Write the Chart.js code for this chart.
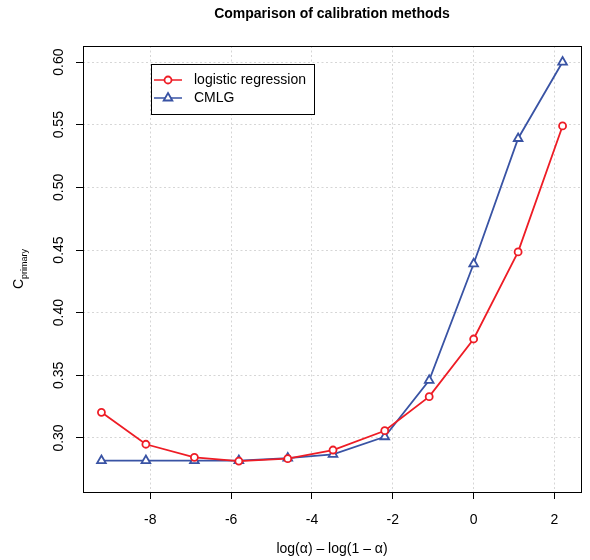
<!DOCTYPE html>
<html>
<head>
<meta charset="utf-8">
<script src="https://cdn.jsdelivr.net/npm/chart.js@4.4.0/dist/chart.umd.min.js"></script>
<style>
  html, body { margin: 0; padding: 0; background: #fff; }
  #wrap { width: 590px; height: 560px; }
</style>
</head>
<body>
<div id="wrap"><canvas id="calChart" width="590" height="560"></canvas></div>
<script>
// log(alpha) - log(1 - alpha)
const logitAlpha = [-9.21, -8.11, -6.91, -5.81, -4.60, -3.48, -2.20, -1.10, 0, 1.10, 2.20]
const logisticVals = [0.3205, 0.295, 0.2846, 0.2816, 0.2835, 0.2904, 0.3058, 0.333, 0.379, 0.4485, 0.549]
const cmlgVals = [0.282, 0.282, 0.282, 0.282, 0.284, 0.287, 0.301, 0.346, 0.439, 0.539, 0.600]
const seriesNames = ['logistic regression', 'CMLG']
const xTicks = [-8, -6, -4, -2, 0, 2]
const yTicks = [0.30, 0.35, 0.40, 0.45, 0.50, 0.55, 0.60]

const RED = '#EE1C25'
const BLUE = '#3953A4'
const FONT = '"Liberation Sans", Arial, sans-serif'

const ctx = document.getElementById('calChart').getContext('2d')

function toPoints(xs, ys) {
  return xs.map((x, i) => ({ x, y: ys[i] }))
}

const rBasePlot = {
  id: 'rBasePlot',
  afterDraw(chart) {
    const { ctx, chartArea: a, scales } = chart
    ctx.save()
    // box
    ctx.strokeStyle = '#000'
    ctx.lineWidth = 1
    ctx.strokeRect(a.left + 0.5, a.top + 0.5, a.right - a.left, a.bottom - a.top)

    // y tick labels, rotated like R
    ctx.fillStyle = '#000'
    ctx.font = '14px ' + FONT
    ctx.textAlign = 'center'
    ctx.textBaseline = 'middle'
    yTicks.forEach((v) => {
      const py = scales.y.getPixelForValue(v)
      ctx.save()
      ctx.translate(59, py)
      ctx.rotate(-Math.PI / 2)
      ctx.fillText(v.toFixed(2), 0, 0)
      ctx.restore()
    })

    // title
    ctx.font = 'bold 14px ' + FONT
    ctx.fillText('Comparison of calibration methods', (a.left + a.right) / 2, 14)

    // x title
    ctx.font = '14px ' + FONT
    ctx.fillText('log(\u03B1) \u2013 log(1 \u2013 \u03B1)', (a.left + a.right) / 2, 549)

    // y title with subscript
    ctx.save()
    ctx.translate(19, (a.top + a.bottom) / 2)
    ctx.rotate(-Math.PI / 2)
    ctx.textAlign = 'left'
    ctx.textBaseline = 'alphabetic'
    ctx.font = '14px ' + FONT
    const cw = ctx.measureText('C').width
    ctx.font = '9px ' + FONT
    const sw = ctx.measureText('primary').width
    const start = -(cw + sw) / 2
    ctx.font = '14px ' + FONT
    ctx.fillText('C', start, 4)
    ctx.font = '9px ' + FONT
    ctx.fillText('primary', start + cw, 8)
    ctx.restore()

    // legend
    const lx = 151, ly = 64, lw = 163, lh = 50
    ctx.fillStyle = '#fff'
    ctx.fillRect(lx, ly, lw, lh)
    ctx.strokeStyle = '#000'
    ctx.strokeRect(lx + 0.5, ly + 0.5, lw, lh)
    const rows = [
      { name: seriesNames[0], color: RED, style: 'circle', y: 80 },
      { name: seriesNames[1], color: BLUE, style: 'triangle', y: 98 }
    ]
    rows.forEach((r) => {
      ctx.strokeStyle = r.color
      ctx.lineWidth = 1.5
      ctx.beginPath()
      ctx.moveTo(154, r.y)
      ctx.lineTo(182, r.y)
      ctx.stroke()
      ctx.fillStyle = '#fff'
      ctx.lineWidth = 1.8
      Chart.helpers.drawPoint(ctx, { pointStyle: r.style, radius: r.style === 'circle' ? 3.5 : 5, rotation: 0, borderWidth: 1.8 }, 168, r.y)
      ctx.fillStyle = '#000'
      ctx.font = '14px ' + FONT
      ctx.textAlign = 'left'
      ctx.textBaseline = 'middle'
      ctx.fillText(r.name, 194, r.y)
    })
    ctx.restore()
  }
}

const commonOptions = {
  borderWidth: 1.8,
  pointBorderWidth: 1.8,
  pointBackgroundColor: '#fff',
  pointHoverRadius: 5,
  tension: 0
}

const gridOptions = {
  color: '#d6d6d6',
  lineWidth: 1,
  drawTicks: true,
  tickLength: 7,
  tickColor: '#000',
  tickWidth: 1
}

const config = {
  type: 'scatter',
  data: {
    datasets: [
      {
        label: seriesNames[0],
        data: toPoints(logitAlpha, logisticVals),
        borderColor: RED,
        pointBorderColor: RED,
        pointStyle: 'circle',
        pointRadius: 3.5,
        showLine: true,
        ...commonOptions
      },
      {
        label: seriesNames[1],
        data: toPoints(logitAlpha, cmlgVals),
        borderColor: BLUE,
        pointBorderColor: BLUE,
        pointStyle: 'triangle',
        pointRadius: 5,
        showLine: true,
        ...commonOptions
      }
    ]
  },
  options: {
    responsive: false,
    animation: false,
    layout: { padding: { top: 46, right: 9, left: 0, bottom: 0 } },
    plugins: {
      legend: { display: false },
      tooltip: { enabled: false }
    },
    scales: {
      x: {
        type: 'linear',
        min: -9.666,
        max: 2.656,
        afterFit(scale) { scale.height = 68 },
        afterBuildTicks(scale) { scale.ticks = xTicks.map((v) => ({ value: v })) },
        border: { display: false, dash: [2, 2.5] },
        grid: gridOptions,
        ticks: {
          color: '#000',
          font: { size: 14, family: FONT },
          padding: 13,
          maxRotation: 0,
          includeBounds: false
        }
      },
      y: {
        type: 'linear',
        min: 0.2569,
        max: 0.6128,
        afterFit(scale) { scale.width = 83 },
        afterBuildTicks(scale) { scale.ticks = yTicks.map((v) => ({ value: v })) },
        border: { display: false, dash: [2, 2.5] },
        grid: gridOptions,
        ticks: {
          display: false,
          includeBounds: false
        }
      }
    }
  },
  plugins: [rBasePlot]
}

new Chart(ctx, config)
</script>
</body>
</html>
